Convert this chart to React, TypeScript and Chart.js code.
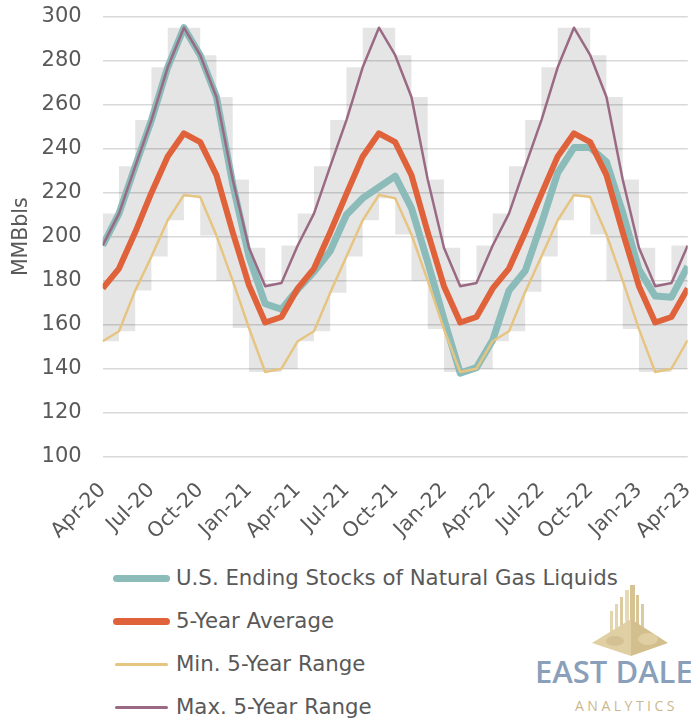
import React, { useEffect, useRef } from "react";
import { Chart, registerables } from "chart.js";

Chart.register(...registerables);

const months = [
  "Apr-20", "May-20", "Jun-20", "Jul-20", "Aug-20", "Sep-20", "Oct-20", "Nov-20", "Dec-20",
  "Jan-21", "Feb-21", "Mar-21", "Apr-21", "May-21", "Jun-21", "Jul-21", "Aug-21", "Sep-21",
  "Oct-21", "Nov-21", "Dec-21", "Jan-22", "Feb-22", "Mar-22", "Apr-22", "May-22", "Jun-22",
  "Jul-22", "Aug-22", "Sep-22", "Oct-22", "Nov-22", "Dec-22", "Jan-23", "Feb-23", "Mar-23",
  "Apr-23",
];

const stocks = [
  196, 210.5, 232, 253, 277, 295, 282.5, 263.5, 224,
  191, 169.5, 167, 176, 184, 193.5, 210, 217.5, 222.5,
  227.5, 213, 188.5, 162.5, 138, 140.5, 153, 175.5, 184.5,
  206, 229, 240.5, 240.5, 234, 211, 185, 173, 172.5,
  186.5,
];

const avg5 = [
  176.5, 185.5, 202, 220, 236.5, 247, 243, 228, 202,
  178, 161, 163.5, 176.5, 185.5, 202, 219.5, 236.5, 247,
  243, 228, 202, 177.5, 161, 163.5, 176.5, 185.5, 202,
  219.5, 236.5, 247, 243, 228, 202, 177.5, 161, 163.5,
  176.5,
];

const min5 = [
  152.5, 157, 175.5, 191, 207.5, 219, 218, 200.5, 180,
  158.5, 138.5, 140, 152.5, 157, 174.5, 191, 207.5, 219,
  217.5, 201, 180, 158, 138.5, 140, 152.5, 157, 175,
  191, 207.5, 219, 218, 201, 180, 158, 138.5, 140,
  153,
];

const max5 = [
  196, 210.5, 232, 253, 277, 295, 282.5, 263.5, 226,
  195, 177.5, 179, 196, 210.5, 232, 253, 277, 295,
  282.5, 263.5, 226, 195, 177.5, 179, 196, 210.5, 232,
  253, 277, 295, 282.5, 263.5, 226, 195, 177.5, 179,
  196,
];

const yTicks = { min: 100, max: 300, step: 20 };
const xTickEvery = 3;

const TEAL = "#8bbcba";
const ORANGE = "#e0623a";
const TAN = "#e6c582";
const MAUVE = "#9a6a84";
const TEXT = "#595959";
const FONT = "'DejaVu Sans', sans-serif";

const legendItems = [
  { label: "U.S. Ending Stocks of Natural Gas Liquids", color: TEAL, h: 7, y: 578 },
  { label: "5-Year Average", color: ORANGE, h: 7, y: 621 },
  { label: "Min. 5-Year Range", color: TAN, h: 3, y: 664 },
  { label: "Max. 5-Year Range", color: MAUVE, h: 3, y: 707 },
];

export default function App() {
  const canvasRef = useRef<HTMLCanvasElement | null>(null);

  useEffect(() => {
    if (!canvasRef.current) return;
    const pts = (arr: number[]) => arr.map((v, i) => ({ x: i, y: v }));
    // band over each month interval [i, i+1]: envelope of the adjacent min / max values
    const last = months.length - 1;
    const bandHi = months.map((_, i) => {
      const j = Math.min(i, last - 1);
      return { x: i, y: Math.max(max5[j], max5[j + 1]) };
    });
    const bandLo = months.map((_, i) => {
      const j = Math.min(i, last - 1);
      return { x: i, y: Math.min(min5[j], min5[j + 1]) };
    });
    const lineBase = {
      pointRadius: 0,
      pointHoverRadius: 0,
      tension: 0,
      borderJoinStyle: "round" as const,
      fill: false,
    };
    const chart = new Chart(canvasRef.current, {
      type: "line",
      data: {
        datasets: [
          {
            ...lineBase,
            label: "U.S. Ending Stocks of Natural Gas Liquids",
            data: pts(stocks),
            borderColor: TEAL,
            borderWidth: 7,
            order: 4,
          },
          {
            ...lineBase,
            label: "5-Year Average",
            data: pts(avg5),
            borderColor: ORANGE,
            borderWidth: 6,
            order: 3,
          },
          {
            ...lineBase,
            label: "Min. 5-Year Range",
            data: pts(min5),
            borderColor: TAN,
            borderWidth: 2.5,
            order: 2,
          },
          {
            ...lineBase,
            label: "Max. 5-Year Range",
            data: pts(max5),
            borderColor: MAUVE,
            borderWidth: 2.5,
            order: 1,
          },
          {
            label: "range-hi",
            data: bandHi,
            stepped: "before",
            pointRadius: 0,
            borderWidth: 0,
            borderColor: "transparent",
            backgroundColor: "rgba(0,0,0,0.1)",
            fill: "+1",
            order: 6,
          } as any,
          {
            label: "range-lo",
            data: bandLo,
            stepped: "before",
            pointRadius: 0,
            borderWidth: 0,
            borderColor: "transparent",
            fill: false,
            order: 7,
          } as any,
        ],
      },
      options: {
        animation: false,
        responsive: true,
        maintainAspectRatio: false,
        events: [],
        layout: { padding: { top: 16.7, right: 3.3, left: 0, bottom: 0 } },
        plugins: {
          legend: { display: false },
          tooltip: { enabled: false },
          filler: { propagate: false },
        },
        scales: {
          x: {
            type: "linear",
            min: 0,
            max: last,
            offset: false,
            grid: { display: false },
            border: { display: false },
            ticks: {
              stepSize: xTickEvery,
              autoSkip: false,
              maxRotation: 45,
              minRotation: 45,
              padding: 15,
              color: TEXT,
              font: { family: FONT, size: 20.5, lineHeight: 1 },
              callback: (v: any) => {
                const n = Number(v);
                return Number.isInteger(n) && n % xTickEvery === 0 ? months[n] : "";
              },
            },
            afterFit: (s: any) => {
              s.height = 89.3;
              s.paddingLeft = 0;
              s.paddingRight = 0;
            },
          },
          y: {
            min: yTicks.min,
            max: yTicks.max,
            ticks: {
              stepSize: yTicks.step,
              padding: 21,
              color: TEXT,
              font: { family: FONT, size: 21 },
            },
            grid: { color: "#d9d9d9", lineWidth: 1.5, drawTicks: false },
            border: { display: false },
            title: {
              display: true,
              text: "MMBbls",
              color: TEXT,
              font: { family: FONT, size: 20.5, lineHeight: 1.2 },
              padding: { top: 9, bottom: 0 },
            },
            afterFit: (s: any) => {
              s.width = 102.7;
              s.paddingTop = 0;
              s.paddingBottom = 0;
            },
          },
        },
      },
    });
    return () => chart.destroy();
  }, []);

  return (
    <div
      style={{
        position: "fixed",
        left: 0,
        top: 0,
        width: 691,
        height: 723,
        overflow: "hidden",
        background: "#fff",
      }}
    >
      <div style={{ position: "absolute", left: 0, top: 0, width: 691, height: 546 }}>
        <canvas ref={canvasRef} />
      </div>
      {legendItems.map((it) => (
        <div
          key={it.label}
          style={{
            position: "absolute",
            left: 113,
            top: it.y - 15,
            height: 30,
            display: "flex",
            alignItems: "center",
            whiteSpace: "nowrap",
          }}
        >
          <span
            style={{
              display: "inline-block",
              width: it.h > 4 ? 57 : 53,
              marginLeft: it.h > 4 ? 0 : 2,
              marginRight: it.h > 4 ? 6 : 8,
              height: it.h,
              borderRadius: it.h / 2,
              background: it.color,
            }}
          />
          <span style={{ fontFamily: FONT, fontSize: 21.3, color: TEXT, lineHeight: "30px" }}>
            {it.label}
          </span>
        </div>
      ))}
      <svg
        style={{ position: "absolute", left: 580, top: 580 }}
        width={100}
        height={82}
        viewBox="580 580 100 82"
      >
        <rect x={610} y={611} width={3} height={25} fill="#e3d5ad" />
        <rect x={615} y={604} width={3} height={30} fill="#e3d5ad" />
        <rect x={620} y={597} width={3} height={30} fill="#dccb9f" />
        <rect x={625} y={590} width={4} height={32} fill="#e6d9b3" />
        <rect x={630} y={585} width={5} height={36} fill="#d6c393" />
        <rect x={636} y={595} width={3} height={30} fill="#d8c697" />
        <rect x={641} y={604} width={3} height={28} fill="#dccb9f" />
        <polygon points="592,643 631,619 631,656" fill="#e0cfa3" />
        <polygon points="631,619 668,643 631,656" fill="#d3bf8d" />
        <ellipse cx={615} cy={641} rx={9} ry={5} fill="#d3c193" />
        <ellipse cx={648} cy={639} rx={10} ry={6} fill="#e0cfa3" />
      </svg>
      <div
        style={{
          position: "absolute",
          left: 535,
          top: 656,
          fontFamily: "'Open Sans', sans-serif",
          fontWeight: 600,
          fontSize: 31,
          lineHeight: "31px",
          color: "#8a9fba",
          whiteSpace: "nowrap",
          letterSpacing: 0,
        }}
      >
        EAST DALE
      </div>
      <div
        style={{
          position: "absolute",
          left: 575,
          top: 699,
          fontFamily: "'Open Sans', sans-serif",
          fontSize: 14,
          lineHeight: "14px",
          color: "#cbb78e",
          whiteSpace: "nowrap",
          letterSpacing: 3.5,
        }}
      >
        ANALYTICS
      </div>
    </div>
  );
}
